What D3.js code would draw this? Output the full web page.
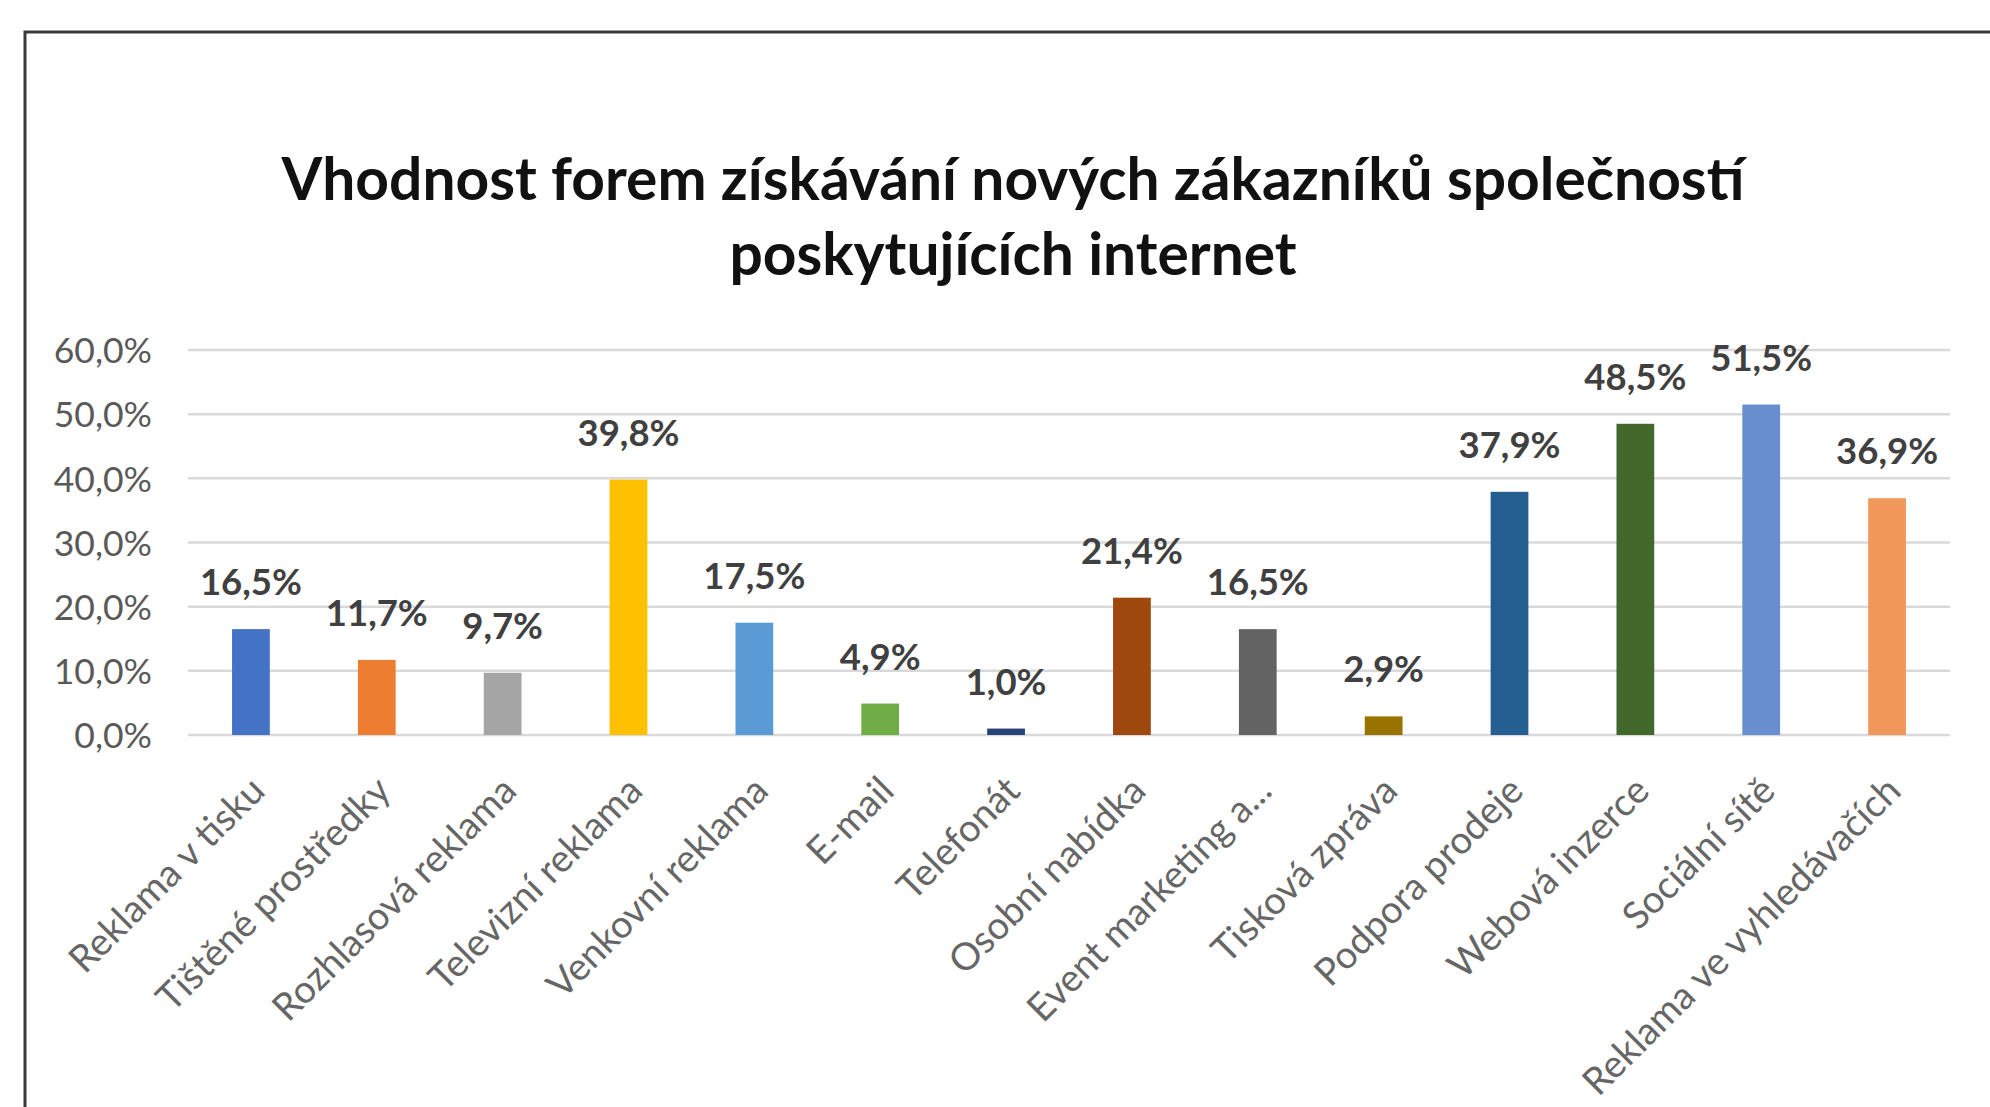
<!DOCTYPE html>
<html>
<head>
<meta charset="utf-8">
<script src="https://cdn.jsdelivr.net/npm/d3@7"></script>
<style>
  html, body { margin: 0; padding: 0; background: #fff; }
  svg { display: block; }
</style>
</head>
<body>
<svg id="chart" width="1990" height="1107"></svg>
<script>
const titleLines = ["Vhodnost forem získávání nových zákazníků společností", "poskytujících internet"];
const categories = [
  "Reklama v tisku", "Tištěné prostředky", "Rozhlasová reklama", "Televizní reklama",
  "Venkovní reklama", "E-mail", "Telefonát", "Osobní nabídka", "Event marketing a...",
  "Tisková zpráva", "Podpora prodeje", "Webová inzerce", "Sociální sítě", "Reklama ve vyhledávačích"
];
const values = [16.5, 11.7, 9.7, 39.8, 17.5, 4.9, 1.0, 21.4, 16.5, 2.9, 37.9, 48.5, 51.5, 36.9];
const barColors = [
  "#4472C4", "#ED7D31", "#A5A5A5", "#FFC000", "#5B9BD5", "#70AD47", "#264478",
  "#9E480E", "#636363", "#997300", "#255E91", "#43682B", "#698ED0", "#F1975A"
];
const yTicks = [0, 10, 20, 30, 40, 50, 60];

const svg = d3.select("#chart");
const fmt = v => v.toFixed(1).replace(".", ",") + "%";

// outer frame
svg.append("rect")
  .attr("x", 25).attr("y", 32).attr("width", 2100).attr("height", 1200)
  .attr("fill", "none").attr("stroke", "#3a3a3a").attr("stroke-width", 3);

const plot = { left: 188, right: 1950, top: 350, bottom: 735 };

const x = d3.scaleBand().domain(categories).range([plot.left, plot.right]).paddingInner(0.7).paddingOuter(0.35);
const y = d3.scaleLinear().domain([0, 60]).range([plot.bottom, plot.top]);

// gridlines
svg.append("g").selectAll("line").data(yTicks).join("line")
  .attr("x1", plot.left).attr("x2", plot.right)
  .attr("y1", d => y(d)).attr("y2", d => y(d))
  .attr("stroke", "#d9d9d9").attr("stroke-width", 2.5);

// y axis labels
const yAxis = d3.axisLeft(y).tickValues(yTicks).tickFormat(fmt).tickSize(0).tickPadding(0);
const yg = svg.append("g").attr("transform", `translate(152,0)`).call(yAxis);
yg.select(".domain").remove();
yg.selectAll("text")
  .attr("font-family", "Lato, 'Open Sans', sans-serif")
  .attr("font-size", 35.5).attr("fill", "#595959").attr("dy", "0.36em");

// bars
svg.append("g").selectAll("rect").data(values).join("rect")
  .attr("x", (d, i) => x(categories[i]))
  .attr("width", x.bandwidth())
  .attr("y", d => y(d))
  .attr("height", d => y(0) - y(d))
  .attr("fill", (d, i) => barColors[i]);

// data labels
svg.append("g").selectAll("text").data(values).join("text")
  .attr("x", (d, i) => x(categories[i]) + x.bandwidth() / 2)
  .attr("y", d => y(d) - 34)
  .attr("text-anchor", "middle")
  .attr("font-family", "Lato, 'Open Sans', sans-serif")
  .attr("font-weight", "bold")
  .attr("font-size", 36.5).attr("fill", "#404040")
  .text(fmt);

// x axis labels
const xAxis = d3.axisBottom(x).tickSize(0).tickPadding(0);
const xg = svg.append("g").attr("transform", `translate(0,${plot.bottom})`).call(xAxis);
xg.select(".domain").remove();
xg.selectAll("text")
  .attr("font-family", "Lato, 'Open Sans', sans-serif")
  .attr("font-size", 38).attr("fill", "#666666")
  .attr("text-anchor", "end")
  .attr("y", 0).attr("dy", 0)
  .attr("transform", "translate(16,58) rotate(-45)");

// title
const title = svg.append("g");
const t1 = title.append("text")
  .attr("x", 1013).attr("y", 200)
  .attr("text-anchor", "middle")
  .attr("font-family", "Lato, 'Open Sans', sans-serif")
  .attr("font-weight", "bold").attr("font-size", 56).attr("fill", "#111")
  .text(titleLines[0]);
const w = t1.node().getComputedTextLength();
const fs = 56 * 1463 / w;
t1.attr("font-size", fs);
title.append("text")
  .attr("x", 1013).attr("y", 275)
  .attr("text-anchor", "middle")
  .attr("font-family", "Lato, 'Open Sans', sans-serif")
  .attr("font-weight", "bold").attr("font-size", fs).attr("fill", "#111")
  .text(titleLines[1]);
</script>
</body>
</html>
